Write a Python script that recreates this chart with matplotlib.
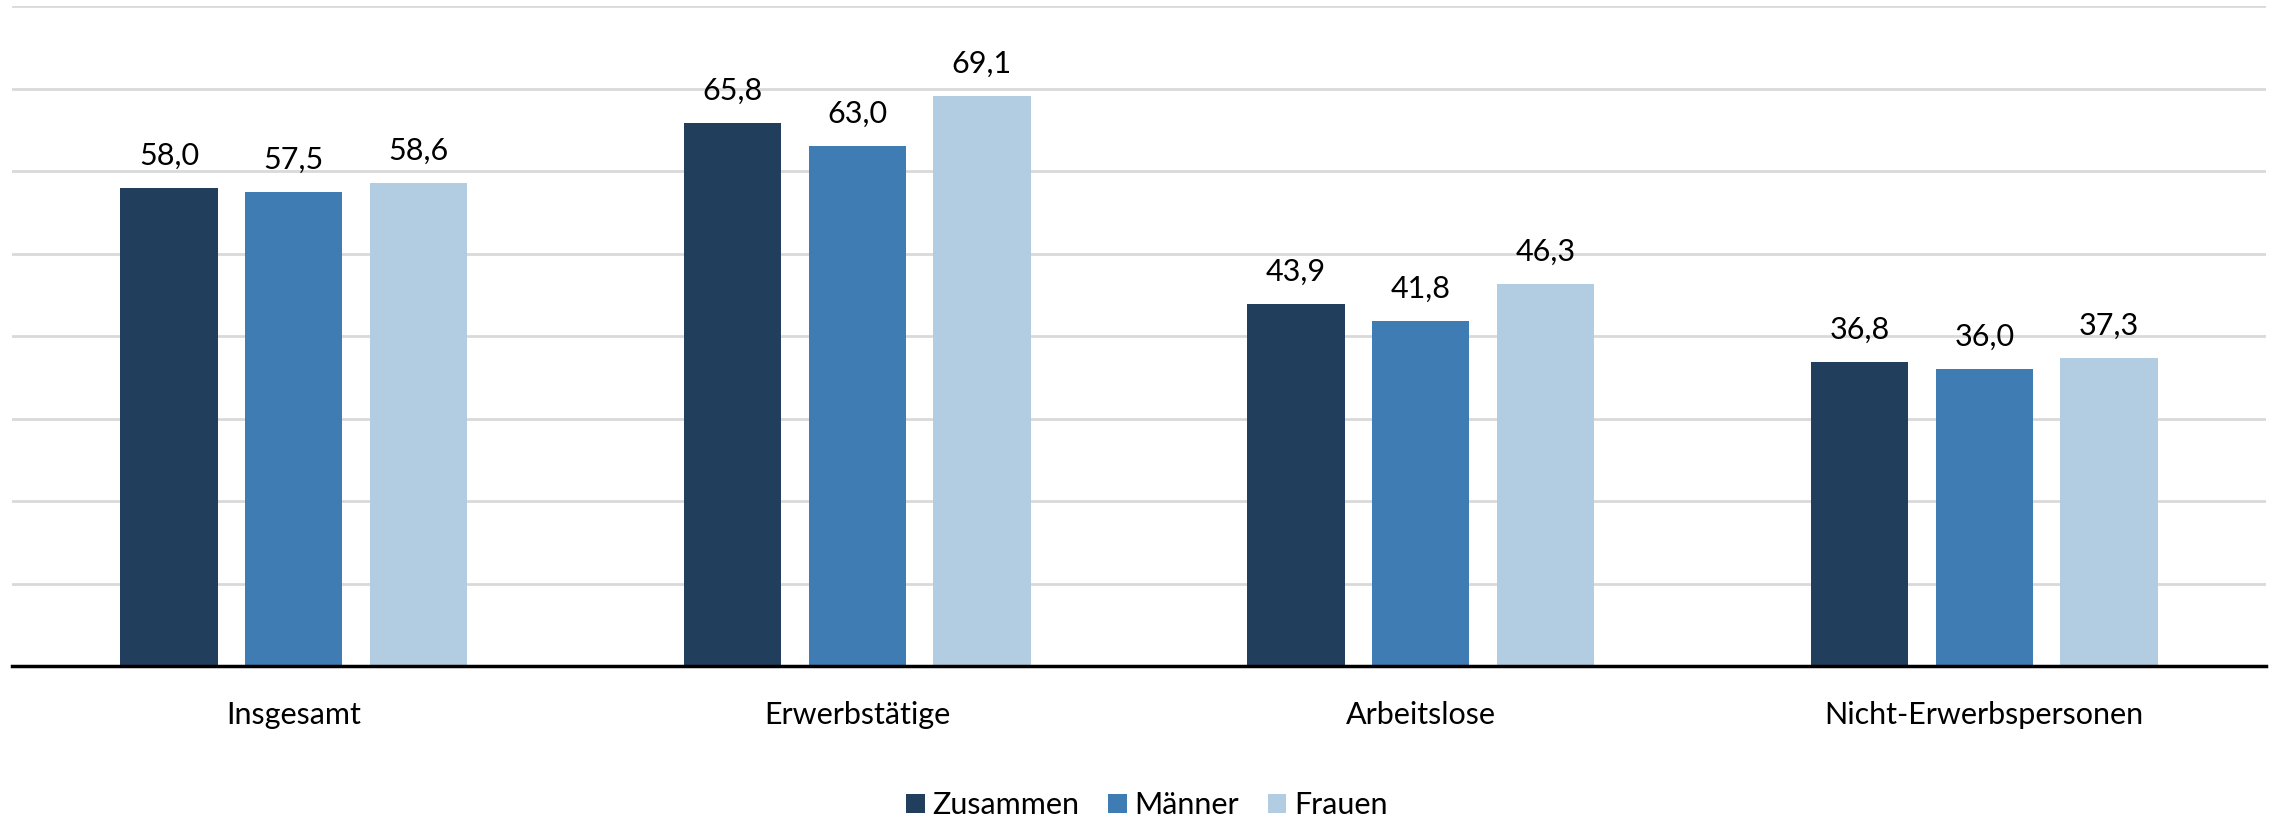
import matplotlib
matplotlib.use("Agg")
import matplotlib.pyplot as plt
import numpy as np

categories = ["Insgesamt", "Erwerbstätige", "Arbeitslose", "Nicht-Erwerbspersonen"]
series_names = ["Zusammen", "Männer", "Frauen"]
zusammen = [58.0, 65.8, 43.9, 36.8]
maenner = [57.5, 63.0, 41.8, 36.0]
frauen = [58.6, 69.1, 46.3, 37.3]
colors = ["#213F5C", "#407CB4", "#B2CCE2"]

plt.rcParams['font.family'] = ['Lato', 'DejaVu Sans']

fig = plt.figure(figsize=(22.7, 8.19), dpi=100)
ax = fig.add_axes([12/2270, 1 - 666/819, (2266-12)/2270, (666-6)/819])

x = np.arange(len(categories))
width = 0.173
stride = 0.221
for i, (vals, name, c) in enumerate(zip([zusammen, maenner, frauen], series_names, colors)):
    pos = x + (i - 1) * stride
    bars = ax.bar(pos, vals, width=width, color=c, label=name, zorder=3)
    for p, v in zip(pos, vals):
        ax.text(p, v + 2.2, f"{v:.1f}".replace(".", ","), ha="center", va="bottom",
                fontsize=22, color="black")

ax.set_xlim(-0.5, len(categories) - 0.5)
ax.set_ylim(0, 80)
ax.set_yticks(np.arange(0, 81, 10))
ax.yaxis.grid(True, color="#d9d9d9", linewidth=2, zorder=0)
ax.tick_params(axis="y", left=False, labelleft=False)
ax.tick_params(axis="x", bottom=False, labelsize=22, pad=22)
ax.set_xticks(x)
ax.set_xticklabels(categories)
for s in ["top", "right", "left"]:
    ax.spines[s].set_visible(False)
ax.spines["bottom"].set_linewidth(2.5)
ax.spines["bottom"].set_color("black")
ax.spines["bottom"].set_zorder(4)

leg = fig.legend(loc="center", bbox_to_anchor=(1147/2270, 1 - 805/819), ncol=3,
                 frameon=False, fontsize=22, handlelength=0.6, handleheight=0.6,
                 handletextpad=0.25, columnspacing=0.95)

fig.savefig("out.png", dpi=100)
